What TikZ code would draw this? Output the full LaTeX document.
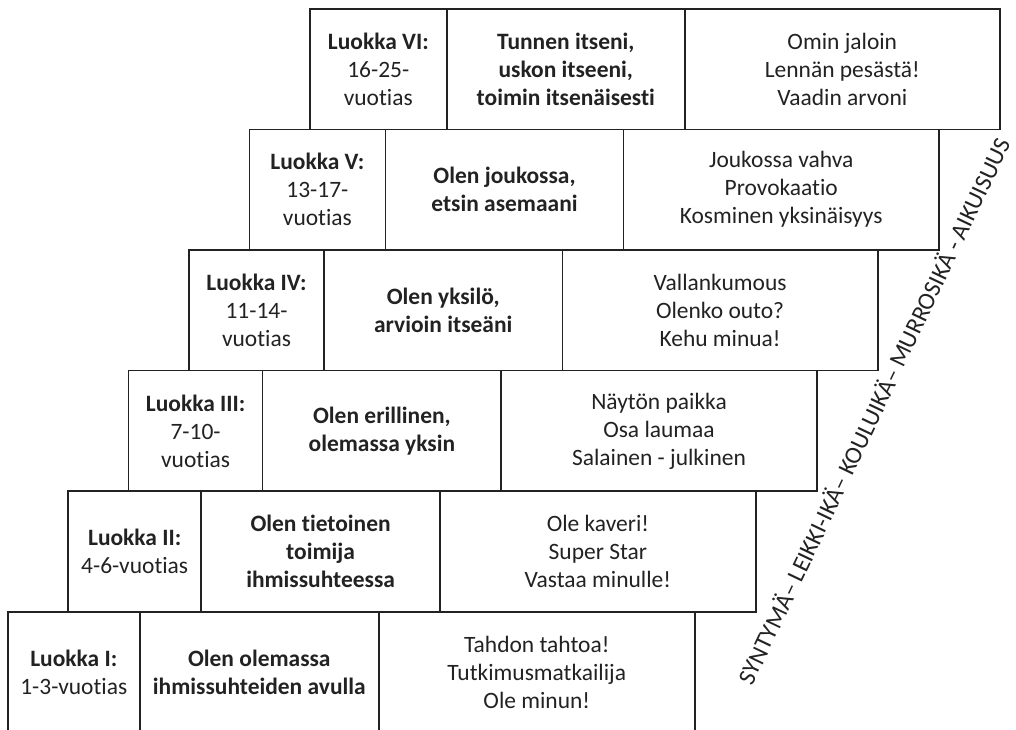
\documentclass[tikz,border=0pt]{standalone}
\usepackage{fontspec}
\setmainfont{Carlito}[Ligatures=NoCommon]
\definecolor{ink}{HTML}{222222}
\newcommand\stairrow[4]{%
 \pgfmathsetmacro\yt{611-120.6*#1}%
 \pgfmathsetmacro\xa{7+60.4*#1}%
 \pgfmathsetmacro\xb{139+61.4*#1}%
 \pgfmathsetmacro\xc{378+61.2*#1}%
 \pgfmathsetmacro\xd{694+61*#1}%
 \pgfmathsetmacro\wa{(\xb-\xa)*0.75}%
 \pgfmathsetmacro\wb{(\xc-\xb)*0.75}%
 \pgfmathsetmacro\wc{(\xd-\xc)*0.75}%
 \node[cell, minimum width=\wa pt, anchor=north west] (r#1a) at (\xa,\yt) {#2};
 \node[cell, minimum width=\wb pt, anchor=north west, font=\cellfont\bfseries] (r#1b) at (\xb,\yt) {#3};
 \node[cell, minimum width=\wc pt, anchor=north west] (r#1c) at (\xc,\yt) {#4};
}
\newcommand\cellfont{\fontsize{17.6}{21}\selectfont}
\begin{document}
\begin{tikzpicture}[x=0.75pt,y=-0.75pt,
  cell/.style={draw=ink, line width=1.2pt, text=ink, align=center, inner sep=0pt,
    minimum height=90.45pt, font=\cellfont},
  agetext/.style={text=ink, font=\fontsize{18.3}{22}\selectfont, inner sep=0pt}]
\useasboundingbox (0,0) rectangle (1016,730);
\stairrow{0}{\textbf{Luokka I:}\\1-3-vuotias}{Olen olemassa\\ihmissuhteiden avulla}{Tahdon tahtoa!\\Tutkimusmatkailija\\Ole minun!}
\stairrow{1}{\textbf{Luokka II:}\\4-6-vuotias}{Olen tietoinen\\toimija\\ihmissuhteessa}{Ole kaveri!\\Super Star\\Vastaa minulle!}
\stairrow{2}{\textbf{Luokka III:}\\7-10-\\vuotias}{Olen erillinen,\\olemassa yksin}{Näytön paikka\\Osa laumaa\\Salainen - julkinen}
\stairrow{3}{\textbf{Luokka IV:}\\11-14-\\vuotias}{Olen yksilö,\\arvioin itseäni}{Vallankumous\\Olenko outo?\\Kehu minua!}
\stairrow{4}{\textbf{Luokka V:}\\13-17-\\vuotias}{Olen joukossa,\\etsin asemaani}{Joukossa vahva\\Provokaatio\\Kosminen yksinäisyys}
\stairrow{5}{\textbf{Luokka VI:}\\16-25-\\vuotias}{Tunnen itseni,\\uskon itseeni,\\toimin itsenäisesti}{Omin jaloin\\Lennän pesästä!\\Vaadin arvoni}
\node[agetext, rotate=64.5] (age) at (873,411) {SYNTYMÄ– LEIKKI-IKÄ– KOULUIKÄ– MURROSIKÄ - AIKUISUUS};
\end{tikzpicture}
\end{document}
